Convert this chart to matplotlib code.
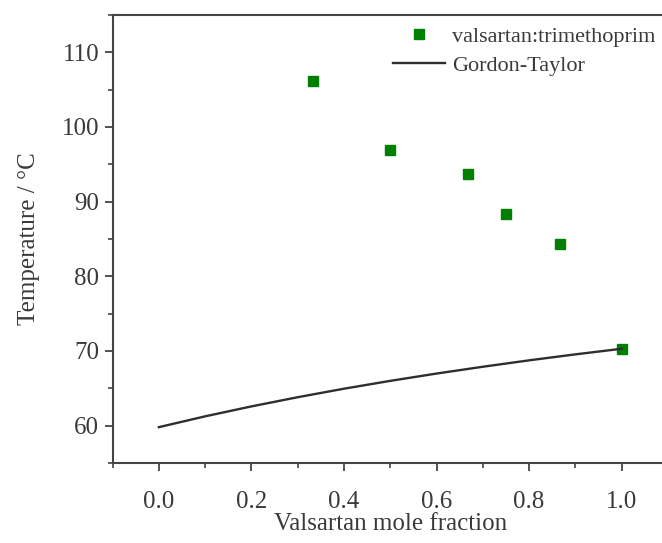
import matplotlib
matplotlib.use("Agg")
import matplotlib.pyplot as plt
from matplotlib.ticker import MultipleLocator

# experimental Tg points (valsartan:trimethoprim)
x_exp = [0.333, 0.5, 0.667, 0.75, 0.866, 1.0]
t_exp = [106.2, 96.9, 93.7, 88.4, 84.3, 70.3]

# Gordon-Taylor curve
x_gt = [0.0, 0.1, 0.2, 0.3, 0.4, 0.5, 0.6, 0.7, 0.8, 0.9, 1.0]
t_gt = [59.8, 61.25, 62.58, 63.81, 64.95, 66.0, 66.98, 67.89, 68.75, 69.55, 70.3]

plt.rcParams['font.family'] = ['Liberation Serif', 'DejaVu Serif']
txt = '#3a3a3a'

fig = plt.figure(figsize=(6.62, 5.43), dpi=100)
ax = fig.add_axes([0.170, 0.1473, 0.839, 0.8252])

ax.plot(x_exp, t_exp, 's', color='#008000', markersize=7.5,
        label='valsartan:trimethoprim')
ax.plot(x_gt, t_gt, '-', color='#2e2e2e', lw=1.7, label='Gordon-Taylor')

ax.set_xlim(-0.1, 1.1)
ax.set_ylim(55, 115)
ax.xaxis.set_major_locator(MultipleLocator(0.2))
ax.xaxis.set_minor_locator(MultipleLocator(0.1))
ax.yaxis.set_major_locator(MultipleLocator(10))
ax.yaxis.set_minor_locator(MultipleLocator(5))
ax.xaxis.set_major_formatter(plt.FormatStrFormatter('%.1f'))

for s in ax.spines.values():
    s.set_color('#444444')
    s.set_linewidth(1.5)
ax.tick_params(which='major', direction='out', length=6, width=1.3,
               color='#444444', labelsize=18, labelcolor=txt)
ax.tick_params(which='minor', direction='out', length=3.5, width=1.2,
               color='#444444')
ax.tick_params(axis='x', pad=14)

ax.set_xlabel('Valsartan mole fraction', fontsize=18, color=txt, labelpad=0)
ax.set_ylabel('Temperature / °C', fontsize=18, color=txt, labelpad=16)

ax.legend(loc='upper left', bbox_to_anchor=(393 / 662, 1 - 26 / 543),
          bbox_transform=fig.transFigure, frameon=False, borderpad=0,
          borderaxespad=0, handlelength=2.35, handletextpad=0.32,
          labelspacing=0.38, fontsize=16, labelcolor=txt)

fig.savefig('out.png', dpi=100)
